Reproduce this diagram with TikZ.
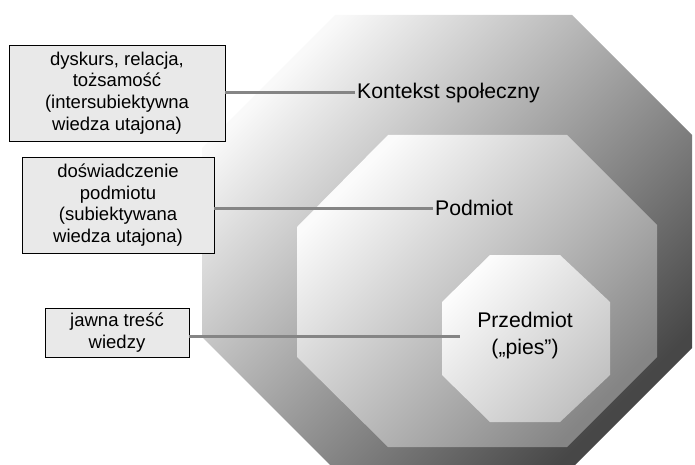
\documentclass[tikz,border=0pt]{standalone}
\usepackage{fontspec}
\setmainfont{Liberation Sans}
\usepackage{xcolor}
\usetikzlibrary{positioning}
\definecolor{boxgray}{HTML}{E9E9E9}
\definecolor{linkgray}{HTML}{858585}
\tikzset{
  infobox/.style={rectangle, draw=black, line width=0.9pt, fill=boxgray, align=center,
                  inner sep=0pt, font=\fontsize{18.5}{21.7}\selectfont},
  levellabel/.style={align=center, inner sep=2pt, font=\fontsize{21.2}{27}\selectfont},
  link/.style={draw=linkgray, line width=3pt},
  octouter/.style={top color=gray!5, middle color=gray!26, bottom color=black!72, shading angle=45},
  octmiddle/.style={top color=gray!3, middle color=gray!18, bottom color=black!48, shading angle=45},
  octinner/.style={top color=gray!2, middle color=gray!9, bottom color=black!24, shading angle=45},
}

\begin{document}
\begin{tikzpicture}[x=1pt, y=-1pt]
  \useasboundingbox (0,0) rectangle (695,465);

  %% === Nested octagons ===
  \begin{scope}
    \clip (0,0) rectangle (695,465);
    \shade[octouter] (335,15) -- (572,15) -- (692,135) -- (692,348) -- (570,470)
      -- (335,470) -- (202,337) -- (202,148) -- cycle;
  \end{scope}
  \shade[octmiddle] (388,135) -- (567,135) -- (657,225) -- (657,357) -- (567,447)
    -- (388,447) -- (297,357) -- (297,227) -- cycle;
  \shade[octinner] (490,255) -- (560,255) -- (610,302) -- (610,375) -- (560,422)
    -- (490,422) -- (442,375) -- (442,302) -- cycle;

  % Level labels
  \node[levellabel, anchor=west] at (355,93) (kontekst) {Kontekst społeczny};
  \node[levellabel, anchor=west] at (433,208) (podmiot) {Podmiot};
  \node[levellabel, minimum width=130pt] at (525,336) (przedmiot) {Przedmiot\\(„pies”)};

  % Left boxes
  \node[infobox, minimum width=216pt, minimum height=96pt] at (117,93) (ctxbox)
    {dyskurs, relacja,\\tożsamość\\(intersubiektywna\\wiedza utajona)};
  \node[infobox, minimum width=192pt, minimum height=96pt] at (118,205) (subjbox)
    {doświadczenie\\podmiotu\\(subiektywana\\wiedza utajona)};
  \node[infobox, minimum width=144pt, minimum height=49pt] at (117,332.5) (objbox)
    {jawna treść\\wiedzy};

  % Connectors
  \draw[link] (kontekst.west) -- (kontekst.west -| ctxbox.east);
  \draw[link] (podmiot.west) -- (podmiot.west -| subjbox.east);
  \draw[link] (przedmiot.west) -- (przedmiot.west -| objbox.east);

\end{tikzpicture}
\end{document}
